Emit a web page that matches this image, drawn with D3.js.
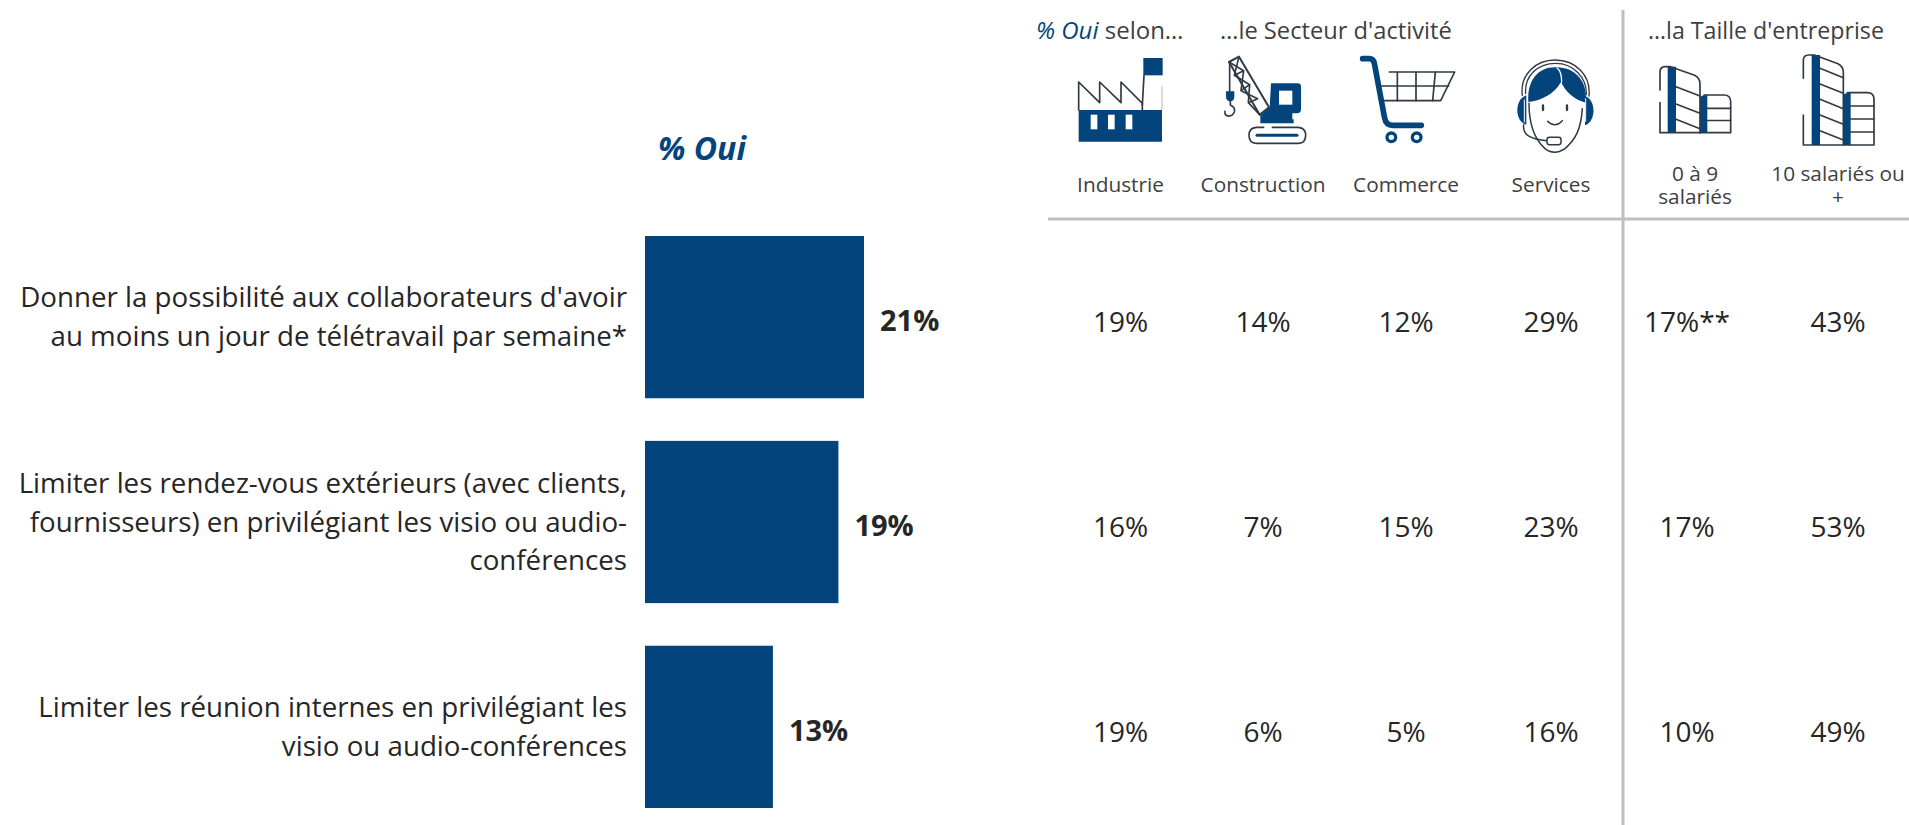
<!DOCTYPE html>
<html lang="fr">
<head>
<meta charset="utf-8">
<title>% Oui</title>
<script src="https://cdn.jsdelivr.net/npm/d3@7"></script>
<style>
  html, body { margin: 0; padding: 0; background: #fff; overflow: hidden; }
  svg { display: block; }
  text { font-family: "Open Sans", sans-serif; }
</style>
</head>
<body>
<div id="chart"></div>
<script>
// Chart values
const actions = ['a', 'b', 'c'];
const actionLines = [
    ["Donner la possibilité aux collaborateurs d'avoir", 'au moins un jour de télétravail par semaine*'],
    ['Limiter les rendez-vous extérieurs (avec clients,', 'fournisseurs) en privilégiant les visio ou audio-', 'conférences'],
    ['Limiter les réunion internes en privilégiant les', 'visio ou audio-conférences']
];
const ouiValues = [21.4, 18.9, 12.5];
const ouiLabels = ['21%', '19%', '13%'];

const columns = ['Industrie', 'Construction', 'Commerce', 'Services', '0 à 9 salariés', '10 salariés ou +'];
const columnLines = [['Industrie'], ['Construction'], ['Commerce'], ['Services'], ['0 à 9', 'salariés'], ['10 salariés ou', '+']];
const tableValues = [
    ['19%', '14%', '12%', '29%', '17%**', '43%'],
    ['16%', '7%', '15%', '23%', '17%', '53%'],
    ['19%', '6%', '5%', '16%', '10%', '49%']
];

const width = 1909, height = 825;
const blue = '#03447c', ink = '#404040', dark = '#262626', rule = '#bfbfbf';

const svg = d3.select('#chart').append('svg')
    .attr('width', width)
    .attr('height', height);

// Bars
const x = d3.scaleLinear().domain([0, 21.4]).range([645, 864]);
const y = d3.scaleBand().domain(actions).range([236, 808]).paddingInner(0.208).paddingOuter(0);
const columnX = d3.scaleOrdinal().domain(columns).range([1120.5, 1263, 1406, 1551, 1687, 1838]);
const headerX = d3.scaleOrdinal().domain(columns).range([1120.5, 1263, 1406, 1551, 1695, 1838]);

svg.selectAll('rect.bar')
    .data(actions)
    .join('rect')
    .attr('class', 'bar')
    .attr('x', x(0))
    .attr('y', d => y(d))
    .attr('width', (d, i) => x(ouiValues[i]) - x(0))
    .attr('height', y.bandwidth())
    .attr('fill', blue);

svg.selectAll('text.oui')
    .data(actions)
    .join('text')
    .attr('class', 'oui')
    .attr('x', (d, i) => x(ouiValues[i]) + 16)
    .attr('y', d => y(d) + y.bandwidth() / 2 + 14)
    .attr('font-size', 29)
    .attr('font-weight', 700)
    .attr('fill', dark)
    .text((d, i) => ouiLabels[i]);

// Row labels, right aligned against the bars
const lineStep = 38.5;
actions.forEach((a, i) => {
    const lines = actionLines[i];
    const mid = y(a) + y.bandwidth() / 2;
    svg.append('g').selectAll('text')
        .data(lines)
        .join('text')
        .attr('x', 627)
        .attr('y', (d, j) => mid + (j - (lines.length - 1) / 2) * lineStep + 9.5)
        .attr('text-anchor', 'end')
        .attr('font-size', 27.7)
        .attr('fill', dark)
        .text(d => d);
});

// Titles
svg.append('text')
    .attr('x', 658).attr('y', 160)
    .attr('font-size', 32).attr('font-weight', 700).attr('font-style', 'italic')
    .attr('fill', blue)
    .text('% Oui');

const selon = svg.append('text').attr('x', 1036).attr('y', 39).attr('font-size', 24).attr('fill', ink);
selon.append('tspan').attr('font-style', 'italic').attr('fill', blue).text('% Oui');
selon.append('tspan').text(' selon…');
svg.append('text').attr('x', 1220).attr('y', 39).attr('font-size', 23.7).attr('fill', ink).text("…le Secteur d'activité");
svg.append('text').attr('x', 1648).attr('y', 39).attr('font-size', 23.2).attr('fill', ink).text("…la Taille d'entreprise");

// Column headers
columns.forEach((c, i) => {
    const lines = columnLines[i];
    svg.append('g').selectAll('text')
        .data(lines)
        .join('text')
        .attr('x', headerX(c))
        .attr('y', (d, j) => (lines.length > 1 ? 181 : 192) + j * 23.3)
        .attr('text-anchor', 'middle')
        .attr('font-size', 20.8)
        .attr('fill', ink)
        .text(d => d);
});

// Table cells
actions.forEach((a, r) => {
    svg.append('g').selectAll('text')
        .data(columns)
        .join('text')
        .attr('x', c => columnX(c))
        .attr('y', y(a) + y.bandwidth() / 2 + 15)
        .attr('text-anchor', 'middle')
        .attr('font-size', 28)
        .attr('fill', dark)
        .text((c, i) => tableValues[r][i]);
});

// Separators
svg.append('line').attr('x1', 1048).attr('x2', width).attr('y1', 219).attr('y2', 219)
    .attr('stroke', rule).attr('stroke-width', 3);
svg.append('line').attr('x1', 1623).attr('x2', 1623).attr('y1', 10).attr('y2', height)
    .attr('stroke', rule).attr('stroke-width', 3);

// Icons are drawn in the pixels of a 3x crop, then scaled down
function icon(px, py) {
    return svg.append('g').attr('transform', `translate(${px},${py}) scale(${1 / 3})`);
}
function outline(g, d, w = 5, color = '#2f3a45') {
    return g.append('path').attr('d', d).attr('fill', 'none').attr('stroke', color)
        .attr('stroke-width', w).attr('stroke-linejoin', 'round').attr('stroke-linecap', 'round');
}
function solid(g, d, color = blue) {
    return g.append('path').attr('d', d).attr('fill', color);
}

// Factory
const factory = icon(1070, 50);
solid(factory, 'M26 180H276V275H26Z');
solid(factory, 'M220 24H278V76H220Z');
['M62 194h20v44h-20z', 'M114 194h20v44h-20z', 'M167 194h20v44h-20z'].forEach(d => solid(factory, d, '#fff'));
outline(factory, 'M26 180V96L89 158V96L153 158V96L217 160V180');
outline(factory, 'M217 165L222 76');
outline(factory, 'M276 110V180', 2, '#8a949c');

// Crane
const crane = icon(1215, 50);
outline(crane, 'M42 36L72 20L162 172L134 194Z', 6);
outline(crane, 'M42 36L86 62L58 76L104 104L78 122L128 146L100 158L134 194M72 20L58 76M86 62L78 122M104 104L100 158', 5);
outline(crane, 'M44 40V124', 5);
solid(crane, 'M33 124H58V140Q58 152 46 154Q33 152 33 140Z');
outline(crane, 'M46 154V165Q62 172 58 186Q52 200 38 198Q28 194 30 184', 5);
solid(crane, 'M168 100H248Q258 100 258 110V178Q258 190 246 190H232V208H236V220H136V196L164 172Z');
solid(crane, 'M192 122H232V164H192Z', '#fff');
outline(crane, 'M172 232H250Q272 234 272 256Q272 280 250 280H124Q102 280 102 256Q102 234 124 232H146', 5);
outline(crane, 'M126 256H246', 9, blue);

// Cart
const cart = icon(1350, 50);
outline(cart, 'M38 26H58Q70 26 73 40L104 205Q108 226 128 226H214', 17, blue);
outline(cart, 'M118 66H314L272 152H104', 5);
outline(cart, 'M84 108H296', 5);
outline(cart, 'M142 66V152M198 66V152M256 66L248 152', 5);
cart.append('circle').attr('cx', 124).attr('cy', 262).attr('r', 13).attr('fill', '#fff').attr('stroke', blue).attr('stroke-width', 10);
cart.append('circle').attr('cx', 200).attr('cy', 262).attr('r', 13).attr('fill', '#fff').attr('stroke', blue).attr('stroke-width', 10);

// Operator with headset
const agent = icon(1505, 50);
solid(agent, 'M64 136C28 146 28 216 64 224Z');
solid(agent, 'M240 138C274 150 274 214 240 226Z');
solid(agent, 'M154 52C100 50 66 90 70 156C110 152 150 130 168 96C182 126 206 148 242 158C250 96 212 52 154 52Z');
outline(agent, 'M156 54C168 62 170 78 170 96', 4, '#fff');
outline(agent, 'M52 136C44 74 92 30 150 30C212 30 258 76 252 138', 4);
outline(agent, 'M62 130C58 80 96 40 152 40C206 40 246 84 244 134', 4);
outline(agent, 'M58 150V216', 3, '#fff');
outline(agent, 'M242 146V214', 3, '#fff');
outline(agent, 'M72 160C72 220 84 264 120 296C136 310 160 310 180 296C210 270 228 240 232 176', 4.5);
outline(agent, 'M56 224C52 256 78 268 126 272', 4.5);
agent.append('rect').attr('x', 126).attr('y', 262).attr('width', 42).attr('height', 22).attr('rx', 7)
    .attr('fill', '#fff').attr('stroke', '#2f3a45').attr('stroke-width', 4.5);
outline(agent, 'M114 166V180M186 166V180', 7);
outline(agent, 'M128 214Q150 236 172 212', 4.5);

// Buildings, one drawing per size
function building(px, top, mid, bottom, bandTall, lines) {
    const g = icon(1600, 0);
    const l = px, r = px + 120, e = px + 212;
    solid(g, `M${bandTall} ${top}H${bandTall + 25}V${bottom}H${bandTall}Z`);
    solid(g, `M${r} ${mid + 6}Q${r + 6} ${mid} ${r + 22} ${mid}V${bottom}H${r}Z`);
    outline(g, `M${l} ${bottom - 90}V${bottom}H${e}V${mid + 20}Q${e} ${mid} ${e - 20} ${mid}H${r + 12}`);
    outline(g, `M${l} ${top + 70}V${top + 16}Q${l} ${top} ${l + 16} ${top}H${bandTall + 8}L${r - 16} ${top + 26}Q${r} ${top + 34} ${r} ${top + 52}V${bottom}`);
    lines.forEach(ly => {
        outline(g, `M${bandTall + 25} ${ly}L${r} ${ly + 28}`);
    });
    const floors = lines.length > 3 ? 3 : 2;
    d3.range(floors).forEach(n => {
        outline(g, `M${r + 22} ${mid + 40 + n * (bottom - mid - 40) / floors}H${e}`);
    });
}
building(180, 200, 285, 398, 203, [260, 312, 358]);
building(610, 165, 278, 435, 635, [205, 252, 298, 345, 392]);
</script>
</body>
</html>
